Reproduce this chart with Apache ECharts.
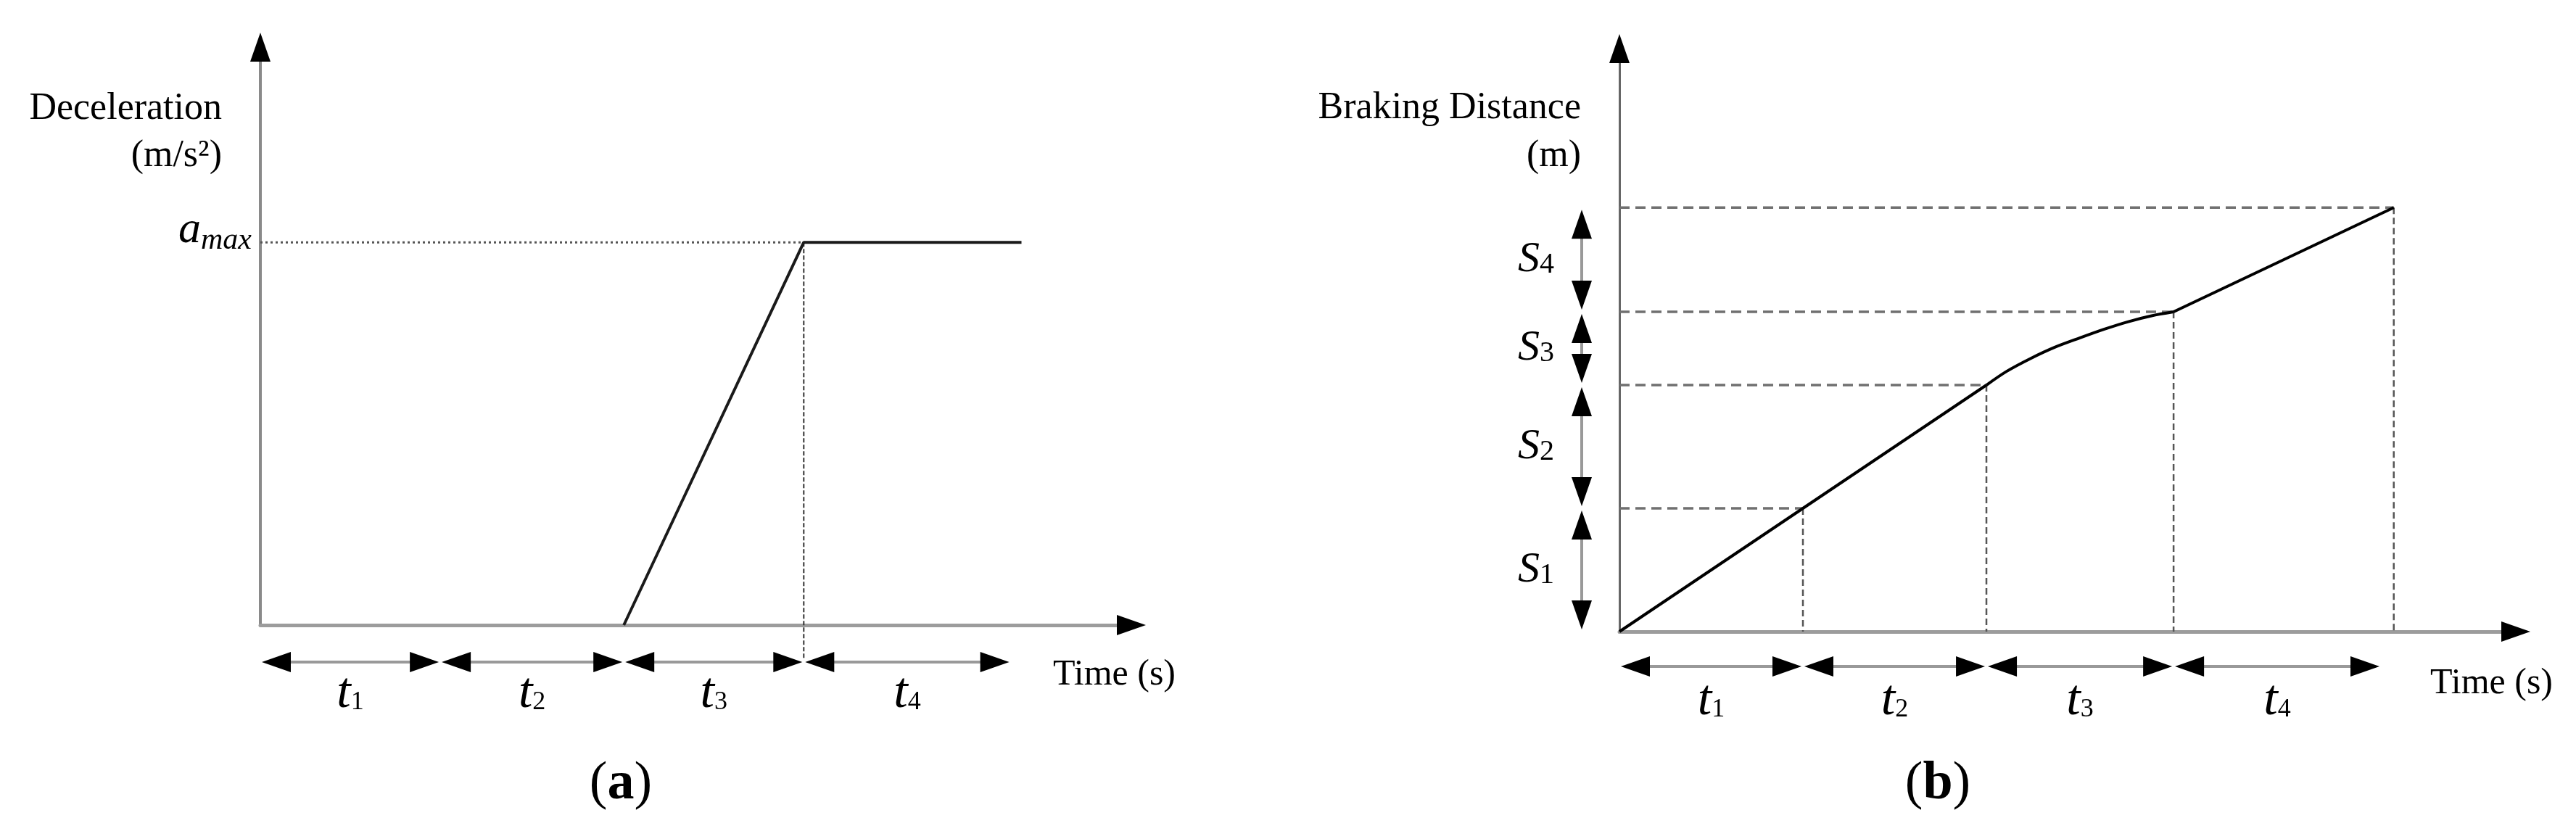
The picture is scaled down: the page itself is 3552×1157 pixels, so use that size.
<!DOCTYPE html>
<html>
<head>
<meta charset="utf-8">
<script src="https://cdn.jsdelivr.net/npm/echarts@6/dist/echarts.min.js"></script>
<style>
  html, body { margin: 0; padding: 0; background: #fff; }
  #ec { width: 3552px; height: 1157px; }
</style>
</head>
<body>
<div id="ec"></div>
<script>
// ===== panel (a): deceleration vs time
var a_x_max = 4.76;
var a_y_max = 1.472;
var a_max = 1;
var decel_time = [2.02, 3.02, 4.23];
var decel_val = [0, 1, 1];
// t1..t4 bounds
var a_t_bounds = [0, 1.0, 2.02, 3.02, 4.17];

// ===== panel (b): braking distance vs time
var b_x_max = 4.806;
var b_y_max = 4.612;
var dist_time = [0, 1.0, 2.0, 2.11, 2.24, 2.37, 2.51, 2.64, 2.77, 2.90, 3.02, 4.22];
var dist_val = [0, 1.0, 2.0, 2.111, 2.215, 2.305, 2.383, 2.452, 2.513, 2.562, 2.594, 3.44];
// end of each phase
var b_mark_time = [1.0, 2.0, 3.02, 4.22];
var b_mark_dist = [1.0, 2.0, 2.594, 3.44];
var b_t_bounds = [0, 1.0, 2.0, 3.02, 4.15];
var b_s_bounds = [0, 1.0, 2.0, 2.594, 3.44];

var t_names = ['1', '2', '3', '4'];
var s_names = ['1', '2', '3', '4'];

var FONT = '"Liberation Serif", "Times New Roman", serif';

var ec = echarts.init(document.getElementById('ec'));

function zip(xs, ys) {
  return xs.map(function(x, i) { return [x, ys[i]]; });
}
function pairs(arr) {
  var out = [];
  for (var i = 0; i < arr.length - 1; i++) out.push([arr[i], arr[i + 1]]);
  return out;
}

// 箭头
var ARR_L = 40, ARR_W = 28;

function tri(tip, dir) {
  // dir: 'l','r','u','d'
  var x = tip[0], y = tip[1], h = ARR_W / 2;
  if (dir == 'r') return [[x, y], [x - ARR_L, y - h], [x - ARR_L, y + h]];
  if (dir == 'l') return [[x, y], [x + ARR_L, y - h], [x + ARR_L, y + h]];
  if (dir == 'u') return [[x, y], [x - h, y + ARR_L], [x + h, y + ARR_L]];
  return [[x, y], [x - h, y - ARR_L], [x + h, y - ARR_L]];
}

// 下标数字和字母同一基线
var t_rich = {
  t: { fontFamily: FONT, fontStyle: 'italic', fontSize: 70, fill: '#000' },
  n: { fontFamily: FONT, fontSize: 36, fill: '#000', padding: [23, 0, 0, 0] }
};
var s_rich = {
  s: { fontFamily: FONT, fontStyle: 'italic', fontSize: 60, fill: '#000' },
  n: { fontFamily: FONT, fontSize: 40, fill: '#000', padding: [14, 0, 0, 0] }
};

// 时间段箭头 (水平)
function t_arrows(row_off, label_off) {
  return function(params, api) {
    var y = api.coord([0, 0])[1] + row_off;
    var x1 = api.coord([api.value(0), 0])[0] + 2;
    var x2 = api.coord([api.value(1), 0])[0] - 2;
    return {
      type: 'group',
      children: [
        { type: 'line', shape: { x1: x1 + ARR_L - 2, y1: y, x2: x2 - ARR_L + 2, y2: y }, style: { stroke: '#999', lineWidth: 4 } },
        { type: 'polygon', shape: { points: tri([x1, y], 'l') }, style: { fill: '#000' } },
        { type: 'polygon', shape: { points: tri([x2, y], 'r') }, style: { fill: '#000' } },
        {
          type: 'text', x: (x1 + x2) / 2, y: y + label_off,
          style: { text: '{t|t}{n|' + t_names[params.dataIndex] + '}', rich: t_rich, fill: '#000', align: 'center', verticalAlign: 'middle' }
        }
      ]
    };
  };
}

// 距离段箭头 (竖直)
function s_arrows(params, api) {
  var x = api.coord([0, 0])[0] - 52;
  var y1 = api.coord([0, api.value(0)])[1] - 3;
  var y2 = api.coord([0, api.value(1)])[1] + 3;
  return {
    type: 'group',
    children: [
      { type: 'line', shape: { x1: x, y1: y1 - ARR_L + 2, x2: x, y2: y2 + ARR_L - 2 }, style: { stroke: '#999', lineWidth: 4 } },
      { type: 'polygon', shape: { points: tri([x, y1], 'd') }, style: { fill: '#000' } },
      { type: 'polygon', shape: { points: tri([x, y2], 'u') }, style: { fill: '#000' } },
      {
        type: 'text', x: x - 38, y: (y1 + y2) / 2,
        style: { text: '{s|S}{n|' + s_names[params.dataIndex] + '}', rich: s_rich, fill: '#000', align: 'right', verticalAlign: 'middle' }
      }
    ]
  };
}

// 坐标轴末端箭头
function axis_heads(params, api) {
  var p = api.coord([api.value(0), api.value(1)]);
  var dir = api.value(1) == 0 ? 'r' : 'u';
  var tip = dir == 'r' ? [p[0] + ARR_L, p[1]] : [p[0], p[1] - ARR_L];
  return { type: 'polygon', shape: { points: tri(tip, dir) }, style: { fill: '#000' } };
}

// (b) 虚线
function b_guides(params, api) {
  var p = api.coord([api.value(0), api.value(1)]);
  var p0 = api.coord([0, api.value(1)]);
  var pb = api.coord([api.value(0), 0]);
  return {
    type: 'group',
    children: [
      { type: 'line', shape: { x1: p0[0], y1: p[1], x2: p[0], y2: p[1] }, style: { stroke: '#707070', lineWidth: 3.5, lineDash: [14, 8] } },
      { type: 'line', shape: { x1: p[0], y1: p[1], x2: p[0], y2: pb[1] }, style: { stroke: '#555', lineWidth: 2.5, lineDash: [9, 5] } }
    ]
  };
}

// (a) 点线
function a_guides(params, api) {
  var p = api.coord([api.value(0), api.value(1)]);
  var p0 = api.coord([0, api.value(1)]);
  var pb = api.coord([api.value(0), 0]);
  return {
    type: 'group',
    children: [
      { type: 'line', shape: { x1: p0[0], y1: p[1], x2: p[0], y2: p[1] }, style: { stroke: '#555', lineWidth: 3, lineDash: [3, 4] } },
      { type: 'line', shape: { x1: p[0], y1: p[1], x2: p[0], y2: pb[1] + 48 }, style: { stroke: '#333', lineWidth: 2, lineDash: [6, 3] } }
    ]
  };
}

function base_x(idx, max, color) {
  return {
    gridIndex: idx, type: 'value', min: 0, max: max,
    axisLine: { show: true, onZero: false, lineStyle: { color: color, width: 5 } },
    axisTick: { show: false }, axisLabel: { show: false }, splitLine: { show: false }
  };
}

// (b) 曲线分三段: 匀速直线 / 减速曲线 / 直线
var i_p2 = 2, i_p3 = 10;
var dist_pts = zip(dist_time, dist_val);

var option = {
  animation: false,
  backgroundColor: '#fff',
  grid: [
    { left: 359, top: 85, width: 1181, height: 777 },
    { left: 2233, top: 87, width: 1216, height: 784 }
  ],
  xAxis: [
    base_x(0, a_x_max, '#9c9c9c'),
    base_x(1, b_x_max, '#9c9c9c')
  ],
  yAxis: [
    {
      gridIndex: 0, type: 'value', min: 0, max: a_y_max,
      axisLine: { show: true, onZero: false, lineStyle: { color: '#8a8a8a', width: 4 } },
      axisTick: { show: false }, splitLine: { show: false },
      axisLabel: {
        show: true, customValues: [a_max], margin: 12, padding: [0, 0, 32, 0],
        formatter: function() { return '{a|a}{m|max}'; },
        rich: {
          a: { fontFamily: FONT, fontStyle: 'italic', fontSize: 62, color: '#000' },
          m: { fontFamily: FONT, fontStyle: 'italic', fontSize: 42, color: '#000', padding: [28, 0, 0, 0] }
        }
      }
    },
    {
      gridIndex: 1, type: 'value', min: 0, max: b_y_max,
      axisLine: { show: true, onZero: false, lineStyle: { color: '#666', width: 3 } },
      axisTick: { show: false }, axisLabel: { show: false }, splitLine: { show: false }
    }
  ],
  series: [
    // ---- (a)
    {
      type: 'custom', xAxisIndex: 0, yAxisIndex: 0, clip: false, silent: true,
      data: [[decel_time[1], a_max]], encode: { x: 0, y: 1 }, renderItem: a_guides, z: 2
    },
    {
      type: 'line', xAxisIndex: 0, yAxisIndex: 0, data: zip(decel_time, decel_val),
      showSymbol: false, lineStyle: { color: '#1a1a1a', width: 4 }, z: 3
    },
    {
      type: 'custom', xAxisIndex: 0, yAxisIndex: 0, clip: false, silent: true,
      data: pairs(a_t_bounds), encode: { x: [0, 1] }, renderItem: t_arrows(51, 44)
    },
    {
      type: 'custom', xAxisIndex: 0, yAxisIndex: 0, clip: false, silent: true,
      data: [[a_x_max, 0], [0, a_y_max]], encode: { x: 0, y: 1 }, renderItem: axis_heads
    },
    // ---- (b)
    {
      type: 'custom', xAxisIndex: 1, yAxisIndex: 1, clip: false, silent: true,
      data: zip(b_mark_time, b_mark_dist), encode: { x: 0, y: 1 }, renderItem: b_guides, z: 2
    },
    {
      type: 'line', xAxisIndex: 1, yAxisIndex: 1, data: dist_pts.slice(0, i_p2 + 1),
      showSymbol: false, lineStyle: { color: '#000', width: 4 }, z: 3
    },
    {
      type: 'line', xAxisIndex: 1, yAxisIndex: 1, data: dist_pts.slice(i_p2, i_p3 + 1),
      smooth: 0.3,
      showSymbol: false, lineStyle: { color: '#000', width: 4 }, z: 3
    },
    {
      type: 'line', xAxisIndex: 1, yAxisIndex: 1, data: dist_pts.slice(i_p3),
      showSymbol: false, lineStyle: { color: '#000', width: 4 }, z: 3
    },
    {
      type: 'custom', xAxisIndex: 1, yAxisIndex: 1, clip: false, silent: true,
      data: pairs(b_t_bounds), encode: { x: [0, 1] }, renderItem: t_arrows(48, 48)
    },
    {
      type: 'custom', xAxisIndex: 1, yAxisIndex: 1, clip: false, silent: true,
      data: pairs(b_s_bounds), encode: { y: [0, 1] }, renderItem: s_arrows
    },
    {
      type: 'custom', xAxisIndex: 1, yAxisIndex: 1, clip: false, silent: true,
      data: [[b_x_max, 0], [0, b_y_max]], encode: { x: 0, y: 1 }, renderItem: axis_heads
    }
  ],
  graphic: [
    { type: 'text', x: 306, y: 150, style: { text: 'Deceleration', font: '52px ' + FONT, fill: '#000', align: 'right', verticalAlign: 'middle' } },
    { type: 'text', x: 306, y: 215, style: { text: '(m/s²)', font: '52px ' + FONT, fill: '#000', align: 'right', verticalAlign: 'middle' } },
    { type: 'text', x: 1452, y: 931, style: { text: 'Time (s)', font: '50px ' + FONT, fill: '#000', align: 'left', verticalAlign: 'middle' } },
    { type: 'text', x: 2180, y: 149, style: { text: 'Braking Distance', font: '52px ' + FONT, fill: '#000', align: 'right', verticalAlign: 'middle' } },
    { type: 'text', x: 2180, y: 215, style: { text: '(m)', font: '52px ' + FONT, fill: '#000', align: 'right', verticalAlign: 'middle' } },
    { type: 'text', x: 3351, y: 943, style: { text: 'Time (s)', font: '50px ' + FONT, fill: '#000', align: 'left', verticalAlign: 'middle' } },
    {
      type: 'text', x: 856, y: 1082,
      style: {
        text: '{p|(}{b|a}{p|)}', align: 'center', verticalAlign: 'middle', fill: '#000',
        rich: { p: { font: '74px ' + FONT, fill: '#000' }, b: { font: 'bold 74px ' + FONT, fill: '#000' } }
      }
    },
    {
      type: 'text', x: 2672, y: 1082,
      style: {
        text: '{p|(}{b|b}{p|)}', align: 'center', verticalAlign: 'middle', fill: '#000',
        rich: { p: { font: '74px ' + FONT, fill: '#000' }, b: { font: 'bold 74px ' + FONT, fill: '#000' } }
      }
    }
  ]
};

ec.setOption(option);
</script>
</body>
</html>
